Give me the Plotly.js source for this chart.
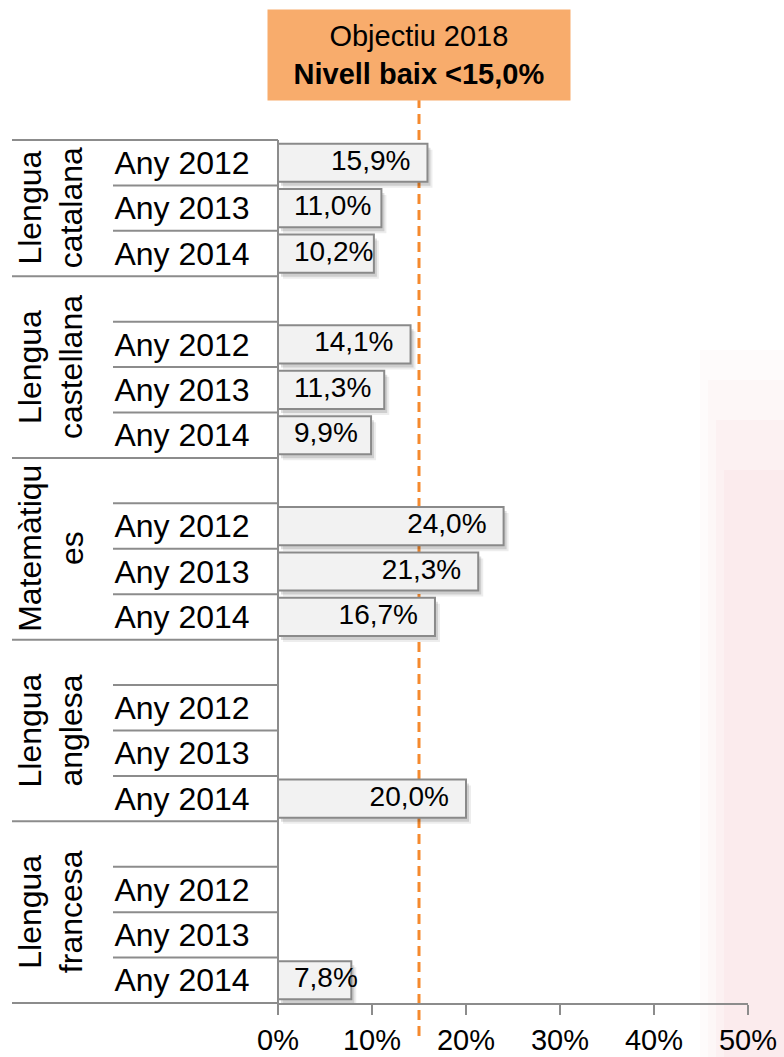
<!DOCTYPE html>
<html>
<head>
<meta charset="utf-8">
<script src="https://cdn.plot.ly/plotly-3.0.1.min.js"></script>
<style>html,body{margin:0;padding:0;background:#fff;}#chart{width:784px;height:1057px;}</style>
</head>
<body>
<div id="chart"></div>
<script>
// ---- data ----
const groups = ['Llengua<br>catalana', 'Llengua<br>castellana', 'Matemàtiqu<br>es', 'Llengua<br>anglesa', 'Llengua<br>francesa'];
const years = ['Any 2012', 'Any 2013', 'Any 2014'];
const catalana   = [15.9, 11.0, 10.2];
const castellana = [14.1, 11.3, 9.9];
const matematiques = [24.0, 21.3, 16.7];
const anglesa    = [null, null, 20.0];
const francesa   = [null, null, 7.8];
const groupValues = [catalana, castellana, matematiques, anglesa, francesa];
const groupHasBlankRow = [false, true, true, true, true];
const xTickVals = [0, 10, 20, 30, 40, 50];
const xTickText = ['0%', '10%', '20%', '30%', '40%', '50%'];
const target = 15.0;
const targetText = 'Objectiu 2018<br><b>Nivell baix &lt;15,0%</b>';

// ---- build slots ----
const slotY = [], slotX = [], slotLabel = [];
const groupBounds = [];  // [startSlot, endSlot)
let s = 0;
groups.forEach((g, gi) => {
  const start = s;
  if (groupHasBlankRow[gi]) { s++; }
  years.forEach((yr, yi) => {
    slotY.push(s); slotX.push(groupValues[gi][yi]); slotLabel.push(yr);
    s++;
  });
  groupBounds.push([start, s]);
});
const nSlots = s;

// ---- geometry ----
const W = 784, H = 1057, L = 278, R = 748, T = 140, B = 1003;
const pxPerUnit = (R - L) / 50;
const px2pX = px => (px - L) / (R - L);
const px2pY = py => (B - py) / (B - T);
const slot2pY = v => 1 - (v + 0.5) / nSlots;

const FONT = 'Liberation Sans, Arial, sans-serif';
const LINEC = '#8c8c8c';

// label placement (right-aligned inside end, clamped at start)
const cv = document.createElement('canvas').getContext('2d');
cv.font = '28px "Liberation Sans", Arial';
const fmt = v => v.toFixed(1).replace('.', ',') + '%';
const lblX = [], lblPos = [], lblText = [], lblY = [];
slotX.forEach((v, i) => {
  if (v == null) return;
  const t = fmt(v);
  const w = cv.measureText(t).width / pxPerUnit;
  const padR = 17 / pxPerUnit, padL = 16 / pxPerUnit;
  if (v - padR - w < padL) { lblX.push(padL); lblPos.push('middle right'); }
  else { lblX.push(v - padR); lblPos.push('middle left'); }
  lblText.push(t); lblY.push(slotY[i]);
});

const barW = 0.84;
const shadowDx = 3 / pxPerUnit, shadowDy = 4 * nSlots / (B - T);
const shadowDx2 = 5 / pxPerUnit, shadowDy2 = 6 * nSlots / (B - T);

const traces = [
  { type: 'bar', orientation: 'h', y: slotY, x: slotX, base: shadowDx2, width: barW,
    offset: -barW / 2 + shadowDy2, marker: { color: 'rgba(0,0,0,0.07)', line: { width: 0 } },
    hoverinfo: 'skip', showlegend: false },
  { type: 'bar', orientation: 'h', y: slotY, x: slotX, base: shadowDx, width: barW,
    offset: -barW / 2 + shadowDy, marker: { color: 'rgba(0,0,0,0.13)', line: { width: 0 } },
    hoverinfo: 'skip', showlegend: false },
  { type: 'bar', orientation: 'h', y: slotY, x: slotX, width: barW, offset: -barW / 2,
    marker: { color: '#f2f2f2', line: { color: '#8a8a8a', width: 2 } },
    hoverinfo: 'skip', showlegend: false },
  { type: 'scatter', mode: 'text', x: lblX, y: lblY, text: lblText, textposition: lblPos,
    textfont: { family: FONT, size: 28, color: '#000' }, hoverinfo: 'skip', showlegend: false, cliponaxis: false }
];

const shapes = [];
// soft pink watermark on the right (layered for a faded edge)
[[700, 350, 0.025], [708, 380, 0.025], [716, 420, 0.03], [724, 470, 0.03]].forEach(r => {
  shapes.push({ type: 'rect', xref: 'paper', yref: 'paper', x0: px2pX(r[0]), x1: px2pX(800), y0: px2pY(1070), y1: px2pY(r[1]),
    fillcolor: 'rgba(225,70,95,' + r[2] + ')', line: { width: 0 }, layer: 'below' });
});
// group boundary lines
const boundaries = [0];
groupBounds.forEach(gb => boundaries.push(gb[1]));
boundaries.forEach(b => {
  shapes.push({ type: 'line', xref: 'paper', yref: 'paper', x0: px2pX(12), x1: 0,
    y0: slot2pY(b - 0.5), y1: slot2pY(b - 0.5), line: { color: LINEC, width: 2 } });
});
// sub-row lines
groupBounds.forEach(gb => {
  for (let b = gb[0] + 1; b < gb[1]; b++) {
    shapes.push({ type: 'line', xref: 'paper', yref: 'paper', x0: px2pX(113), x1: 0,
      y0: slot2pY(b - 0.5), y1: slot2pY(b - 0.5), line: { color: LINEC, width: 2 } });
  }
});
// vertical axis line
shapes.push({ type: 'line', xref: 'paper', yref: 'paper', x0: 0, x1: 0, y0: px2pY(1014), y1: 1,
  line: { color: LINEC, width: 2 } });
// target dashed line
shapes.push({ type: 'line', xref: 'x', yref: 'paper', x0: target, x1: target, y0: px2pY(1036), y1: px2pY(100),
  line: { color: '#F58A2E', width: 3, dash: '10px,6px' }, layer: 'below' });

const annotations = [];
groups.forEach((g, gi) => {
  const gb = groupBounds[gi];
  annotations.push({ xref: 'paper', yref: 'paper', x: px2pX(51), y: slot2pY((gb[0] + gb[1] - 1) / 2),
    text: g, textangle: -90, showarrow: false, xanchor: 'center', yanchor: 'middle', align: 'center',
    font: { family: FONT, size: 32, color: '#000' } });
});
annotations.push({ xref: 'x', yref: 'paper', x: target, y: px2pY(55), xanchor: 'center', yanchor: 'middle',
  text: targetText, showarrow: false, bgcolor: '#F8AC6C', width: 302, height: 90, borderpad: 0,
  font: { family: FONT, size: 29, color: '#000' } });

const layout = {
  width: W, height: H, margin: { l: L, r: W - R, t: T, b: H - B, pad: 0 },
  paper_bgcolor: '#ffffff', plot_bgcolor: 'rgba(0,0,0,0)',
  barmode: 'overlay', showlegend: false,
  xaxis: { range: [0, 50], tickvals: xTickVals, ticktext: xTickText, showgrid: false, zeroline: false,
    showline: true, linecolor: LINEC, linewidth: 2, ticks: 'outside', ticklen: 10, tickwidth: 2, tickcolor: LINEC,
    tickfont: { family: FONT, size: 29, color: '#000' }, fixedrange: true },
  yaxis: { range: [nSlots - 0.5, -0.5], tickvals: slotY, ticktext: slotLabel, showgrid: false, zeroline: false,
    showline: false, ticks: 'outside', ticklen: 21, tickcolor: 'rgba(0,0,0,0)',
    tickfont: { family: FONT, size: 32, color: '#000' }, fixedrange: true },
  shapes: shapes, annotations: annotations
};

Plotly.newPlot('chart', traces, layout, { displayModeBar: false, staticPlot: true });
</script>
</body>
</html>
